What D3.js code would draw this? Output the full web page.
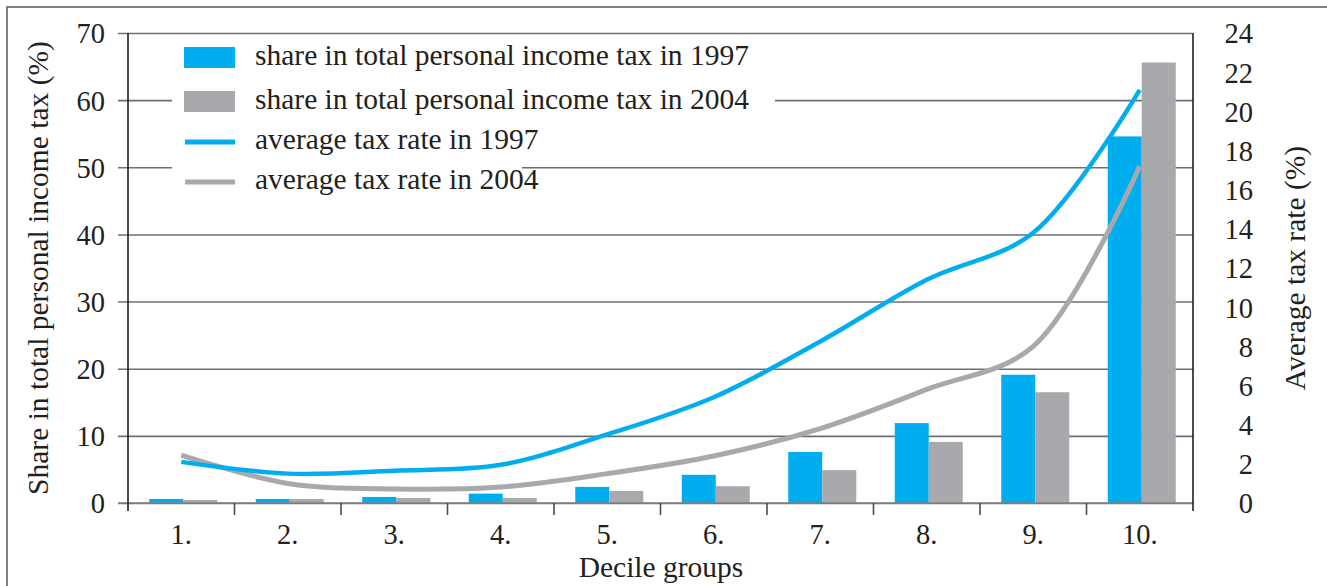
<!DOCTYPE html>
<html>
<head>
<meta charset="utf-8">
<script src="https://cdn.jsdelivr.net/npm/d3@7/dist/d3.min.js"></script>
<style>
  html, body { margin: 0; padding: 0; background: #fff; }
  svg { display: block; }
  text { font-family: "Liberation Serif", "Times New Roman", serif; fill: #231f20; }
</style>
</head>
<body>
<svg id="chart" width="1327" height="586"></svg>
<script>
// ---- data ----
const categories = ["1.", "2.", "3.", "4.", "5.", "6.", "7.", "8.", "9.", "10."];
const share1997 = [0.6, 0.6, 0.9, 1.4, 2.4, 4.2, 7.6, 11.9, 19.1, 54.6];
const share2004 = [0.45, 0.6, 0.75, 0.75, 1.8, 2.5, 4.9, 9.1, 16.5, 65.6];
const rate1997 = [2.1, 1.5, 1.65, 1.95, 3.5, 5.4, 8.25, 11.4, 13.8, 21.1];
const rate2004 = [2.45, 1.0, 0.72, 0.82, 1.5, 2.4, 3.8, 5.8, 8.0, 17.2];
const leftTicks = [0, 10, 20, 30, 40, 50, 60, 70];
const rightTicks = [0, 2, 4, 6, 8, 10, 12, 14, 16, 18, 20, 22, 24];
const legendLabels = [
  "share in total personal income tax in 1997",
  "share in total personal income tax in 2004",
  "average tax rate in 1997",
  "average tax rate in 2004"
];
const seriesColors = ["#00aeef", "#a7a9ac"];

// ---- layout ----
const svg = d3.select("#chart");
const L = 128, R = 1193, T = 33, B = 503;

const x = d3.scaleBand().domain(categories).range([L, R]).paddingInner(0).paddingOuter(0);
const yL = d3.scaleLinear().domain([0, 70]).range([B, T]);
const yR = d3.scaleLinear().domain([0, 24]).range([B, T]);
const barW = 34;
const groupOffset = 2;
const tickFont = 28.5;
const labelFont = 29.5;

// outer frame (left & top)
svg.append("path").attr("d", "M7,586 V7 H1327")
  .attr("fill", "none").attr("stroke", "#58595b").attr("stroke-width", 1.5);

// gridlines (extend 10px left of the axis as ticks)
const gridAxis = d3.axisLeft(yL).tickValues(leftTicks).tickSize(0).tickFormat("");
const gg = svg.append("g").call(gridAxis);
gg.select(".domain").remove();
gg.selectAll(".tick line").attr("x1", L - 10).attr("x2", R)
  .attr("stroke", "#6d6e71").attr("stroke-width", 1.6);

// legend background (white boxes hiding gridlines)
svg.append("rect").attr("x", 172).attr("y", 36).attr("width", 603).attr("height", 86).attr("fill", "#fff");
svg.append("rect").attr("x", 172).attr("y", 122).attr("width", 350).attr("height", 78).attr("fill", "#fff");

// bars
const bars = svg.append("g");
categories.forEach((c, i) => {
  const cx = x(c) + x.bandwidth() / 2 + groupOffset;
  bars.append("rect").attr("x", cx - barW).attr("width", barW)
    .attr("y", yL(share1997[i])).attr("height", yL(0) - yL(share1997[i]))
    .attr("fill", seriesColors[0]);
  bars.append("rect").attr("x", cx).attr("width", barW)
    .attr("y", yL(share2004[i])).attr("height", yL(0) - yL(share2004[i]))
    .attr("fill", seriesColors[1]);
});

// baseline redraw (gray)
svg.append("line").attr("x1", L - 10).attr("x2", R).attr("y1", B).attr("y2", B)
  .attr("stroke", "#808285").attr("stroke-width", 1.6);

// axes
const leftAxis = d3.axisLeft(yL).tickValues(leftTicks).tickSize(0).tickPadding(23);
const la = svg.append("g").attr("transform", `translate(${L},0)`).call(leftAxis);
la.select(".domain").remove();
la.selectAll("text").attr("font-size", tickFont).attr("font-family", "Liberation Serif").attr("fill", "#231f20").attr("dy", "0.35em");

const rightAxis = d3.axisRight(yR).tickValues(rightTicks).tickSize(0).tickPadding(0);
const ra = svg.append("g").attr("transform", `translate(${1253},0)`).call(rightAxis);
ra.select(".domain").remove();
ra.selectAll("text").attr("font-size", tickFont).attr("font-family", "Liberation Serif").attr("fill", "#231f20")
  .attr("text-anchor", "end").attr("x", 0).attr("dy", "0.35em");

// vertical axis lines
svg.append("line").attr("x1", L).attr("x2", L).attr("y1", T).attr("y2", B + 8)
  .attr("stroke", "#231f20").attr("stroke-width", 1.6);
svg.append("line").attr("x1", R).attr("x2", R).attr("y1", T).attr("y2", B + 8)
  .attr("stroke", "#231f20").attr("stroke-width", 1.6);

// bottom category labels + boundary ticks
const bottomAxis = d3.axisBottom(x).tickSize(0).tickPadding(0);
const ba = svg.append("g").attr("transform", `translate(0,${B})`).call(bottomAxis);
ba.select(".domain").remove();
ba.selectAll("text").attr("font-size", tickFont).attr("font-family", "Liberation Serif").attr("fill", "#231f20")
  .attr("y", 41).attr("dy", 0);
const bounds = categories.slice(1).map(c => x(c));
svg.append("g").selectAll("line").data(bounds).join("line")
  .attr("x1", d => d).attr("x2", d => d).attr("y1", B).attr("y2", B + 12)
  .attr("stroke", "#4d4d4f").attr("stroke-width", 1.6);

// lines
const lineGen = (arr) => d3.line()
  .x((d, i) => x(categories[i]) + x.bandwidth() / 2)
  .y(d => yR(d))
  .curve(d3.curveCatmullRom.alpha(0.5))(arr);
svg.append("path").attr("d", lineGen(rate2004)).attr("fill", "none")
  .attr("stroke", seriesColors[1]).attr("stroke-width", 5);
svg.append("path").attr("d", lineGen(rate1997)).attr("fill", "none")
  .attr("stroke", seriesColors[0]).attr("stroke-width", 4.5);

// legend
const legendRows = [57.5, 101.5, 142, 182];
const lg = svg.append("g");
legendRows.forEach((yy, i) => {
  if (i < 2) {
    lg.append("rect").attr("x", 184).attr("y", yy - 10.5).attr("width", 51).attr("height", 21)
      .attr("fill", seriesColors[i]);
  } else {
    lg.append("line").attr("x1", 185).attr("x2", 235).attr("y1", yy).attr("y2", yy)
      .attr("stroke", seriesColors[i - 2]).attr("stroke-width", 5);
  }
  lg.append("text").attr("x", 255).attr("y", yy + 7).attr("font-size", labelFont)
    .text(legendLabels[i]);
});

// axis titles
svg.append("text").attr("transform", `translate(48,268) rotate(-90)`)
  .attr("text-anchor", "middle").attr("font-size", labelFont)
  .text("Share in total personal income tax (%)");
svg.append("text").attr("transform", `translate(1305,268) rotate(-90)`)
  .attr("text-anchor", "middle").attr("font-size", labelFont)
  .text("Average tax rate (%)");
svg.append("text").attr("x", 661).attr("y", 577)
  .attr("text-anchor", "middle").attr("font-size", labelFont)
  .text("Decile groups");
</script>
</body>
</html>
